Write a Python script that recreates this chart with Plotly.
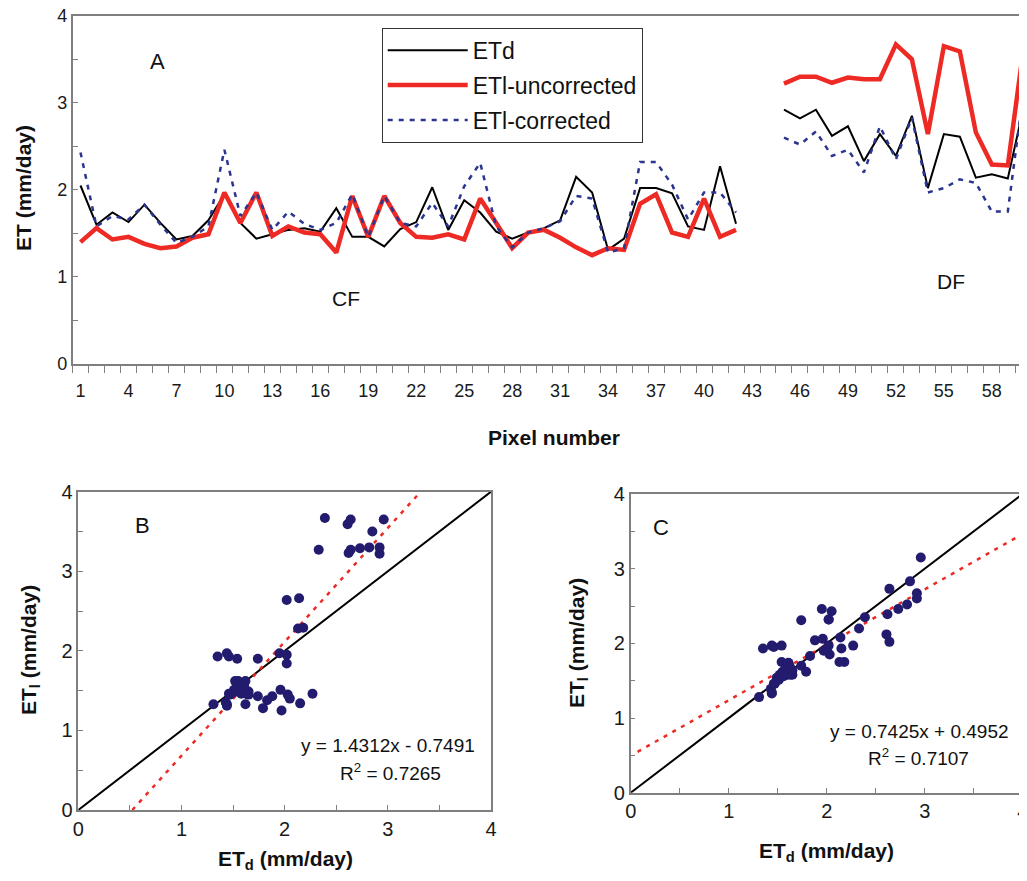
import plotly.graph_objects as go

# ---------------- data ----------------
pixels = list(range(1, 61))

et_d = [2.05, 1.60, 1.74, 1.63, 1.83, 1.62, 1.43, 1.47, 1.65, 1.95,
        1.62, 1.44, 1.49, 1.54, 1.56, 1.52, 1.79, 1.46, 1.46, 1.35,
        1.55, 1.63, 2.03, 1.54, 1.88, 1.74, 1.52, 1.44, 1.51, 1.56,
        1.65, 2.15, 1.97, 1.31, 1.44, 2.02, 2.02, 1.96, 1.58, 1.54,
        2.27, 1.61, None, None, 2.92, 2.82, 2.92, 2.62, 2.73, 2.33,
        2.64, 2.39, 2.85, 2.02, 2.64, 2.61, 2.14, 2.18, 2.13, 2.96]

etl_uncorrected = [1.40, 1.56, 1.43, 1.46, 1.38, 1.33, 1.35, 1.45, 1.49, 1.97,
                   1.62, 1.97, 1.47, 1.58, 1.51, 1.49, 1.28, 1.93, 1.46, 1.93,
                   1.62, 1.46, 1.45, 1.49, 1.43, 1.90, 1.62, 1.33, 1.51, 1.54,
                   1.45, 1.34, 1.25, 1.33, 1.31, 1.84, 1.95, 1.51, 1.46, 1.90,
                   1.46, 1.54, None, None, 3.22, 3.30, 3.30, 3.23, 3.29, 3.27,
                   3.27, 3.67, 3.50, 2.64, 3.65, 3.59, 2.66, 2.29, 2.28, 3.65]

etl_corrected = [2.43, 1.58, 1.70, 1.66, 1.83, 1.60, 1.39, 1.46, 1.58, 2.46,
                 1.70, 1.97, 1.54, 1.75, 1.61, 1.54, 1.62, 1.95, 1.46, 1.93,
                 1.62, 1.58, 1.85, 1.58, 2.04, 2.31, 1.58, 1.34, 1.51, 1.56,
                 1.64, 1.93, 1.90, 1.28, 1.33, 2.32, 2.32, 2.06, 1.66, 1.97,
                 1.97, 1.74, None, None, 2.60, 2.52, 2.67, 2.39, 2.46, 2.20,
                 2.73, 2.35, 2.83, 1.97, 2.02, 2.12, 2.08, 1.75, 1.75, 3.15]

x_tick_labels = list(range(1, 61, 3))
y_ticks = [0, 1, 2, 3, 4]

fit_b = (1.4312, -0.7491, 0.7265)   # slope, intercept, R2
fit_c = (0.7425, 0.4952, 0.7107)

# ---------------- styling ----------------
FONT = "Liberation Sans, Arial, Helvetica, sans-serif"
BLACK = "#000000"
RED = "#ee2a24"
NAVY = "#2b3590"
DOT = "#221b6e"
AXIS_GREY = "#7f7f7f"
W, H = 1027, 881
PAGE_OFF = 8  # default body margin of the html page


def px_x(p):
    return (p - PAGE_OFF) / W


def px_y(p):
    return 1 - (p - PAGE_OFF) / H


fig = go.Figure()

# Panel A lines
fig.add_trace(go.Scatter(x=pixels, y=et_d, mode="lines", name="ETd", legendgroup="a",
                         line=dict(color=BLACK, width=2), xaxis="x", yaxis="y"))
fig.add_trace(go.Scatter(x=pixels, y=etl_uncorrected, mode="lines", name="ETl-uncorrected",
                         legendgroup="b",
                         line=dict(color=RED, width=4.5), xaxis="x", yaxis="y"))
fig.add_trace(go.Scatter(x=pixels, y=etl_corrected, mode="lines", name="ETl-corrected",
                         legendgroup="c",
                         line=dict(color=NAVY, width=2.5, dash="5px,6px"), xaxis="x", yaxis="y"))


# Panel B / C: 1:1 lines, fit lines, points
def add_scatter_panel(xa, ya, yvals, fit, xr):
    pairs = [(a, b) for a, b in zip(et_d, yvals) if a is not None and b is not None]
    fig.add_trace(go.Scatter(x=[0, 4], y=[0, 4], mode="lines", showlegend=False,
                             line=dict(color=BLACK, width=2), xaxis=xa, yaxis=ya,
                             hoverinfo="skip"))
    s, b, _ = fit
    fig.add_trace(go.Scatter(x=list(xr), y=[s * v + b for v in xr], mode="lines",
                             showlegend=False,
                             line=dict(color=RED, width=2.5, dash="4px,6px"),
                             xaxis=xa, yaxis=ya, hoverinfo="skip"))
    fig.add_trace(go.Scatter(x=[p[0] for p in pairs], y=[p[1] for p in pairs],
                             mode="markers", showlegend=False,
                             marker=dict(color=DOT, size=10, line=dict(width=0)),
                             xaxis=xa, yaxis=ya))


add_scatter_panel("x2", "y2", etl_uncorrected, fit_b,
                  ((0 - fit_b[1]) / fit_b[0], (4 - fit_b[1]) / fit_b[0]))
add_scatter_panel("x3", "y3", etl_corrected, fit_c, (0.07, 3.93))

base = dict(showline=True, linecolor=AXIS_GREY, linewidth=1.5, showgrid=False,
            zeroline=False, tickcolor=AXIS_GREY, tickwidth=1.2, automargin=False,
            ticklabeloverflow="allow")
font_a = dict(family=FONT, size=18, color="#1a1a1a")
font_bc = dict(family=FONT, size=20, color="#1a1a1a")


def sq_axis(domain, anchor):
    return dict(domain=domain, range=[0, 4], anchor=anchor,
                tickmode="array", tickvals=y_ticks, ticks="inside", ticklen=5,
                minor=dict(dtick=0.5, ticks="inside", ticklen=5, tickcolor=AXIS_GREY),
                mirror=True, tickfont=font_bc, **base)


fig.update_layout(
    width=W, height=H, autosize=False,
    margin=dict(l=0, r=0, t=0, b=0, pad=0, autoexpand=False),
    paper_bgcolor="white", plot_bgcolor="white",
    font=dict(family=FONT, color="#111111"),
    xaxis=dict(domain=[px_x(72.5), px_x(1027)], range=[0.5, 60.2], anchor="y",
               tickmode="array", tickvals=x_tick_labels, ticks="outside", ticklen=0,
               minor=dict(tickmode="array", tickvals=[i + 0.5 for i in range(0, 61)],
                          ticks="outside", ticklen=7, tickcolor=AXIS_GREY),
               mirror=True, ticklabelstandoff=10, tickfont=font_a, **base),
    yaxis=dict(domain=[px_y(364), px_y(15.7)], range=[0, 4], anchor="x",
               tickmode="array", tickvals=y_ticks, ticks="inside", ticklen=6,
               minor=dict(dtick=0.5, ticks="inside", ticklen=6, tickcolor=AXIS_GREY),
               mirror=False, tickfont=font_a, **base),
    xaxis2=sq_axis([px_x(78.3), px_x(491)], "y2"),
    yaxis2=sq_axis([px_y(810), px_y(491.7)], "x2"),
    xaxis3=sq_axis([px_x(630.7), px_x(1022.7)], "y3"),
    yaxis3=sq_axis([px_y(792.7), px_y(494)], "x3"),
    legend=dict(x=px_x(381.7), y=px_y(27.7), xanchor="left", yanchor="top",
                bordercolor="#333333", borderwidth=1, bgcolor="white",
                font=dict(family=FONT, size=23, color="#111111"),
                itemwidth=80, tracegroupgap=2, traceorder="grouped"),
    showlegend=True,
)

ann = []


def label(text, x, y, size, bold=False, angle=0):
    t = f"<b>{text}</b>" if bold else text
    ann.append(dict(text=t, x=px_x(x), y=px_y(y), xref="paper", yref="paper",
                    showarrow=False, xanchor="center", yanchor="middle",
                    textangle=angle, font=dict(family=FONT, size=size, color="#111111")))


# axis titles
label("ET (mm/day)", 23, 188, 21, bold=True, angle=-90)
label("Pixel number", 554, 437, 21, bold=True)
label("ET<sub>l</sub> (mm/day)", 30, 650, 21, bold=True, angle=-90)
label("ET<sub>d</sub> (mm/day)", 285, 860, 21, bold=True)
label("ET<sub>l</sub> (mm/day)", 578, 643, 21, bold=True, angle=-90)
label("ET<sub>d</sub> (mm/day)", 826, 852, 21, bold=True)

# panel labels
label("A", 157, 61, 22)
label("CF", 346, 298, 21)
label("DF", 951, 281, 21)
label("B", 142, 525, 22)
label("C", 661, 527, 22)

# regression text
label(f"y = {fit_b[0]:.4f}x - {abs(fit_b[1]):.4f}", 388, 745, 19)
label(f"R<sup>2</sup> = {fit_b[2]:.4f}", 390, 772, 19)
label(f"y = {fit_c[0]:.4f}x + {fit_c[1]:.4f}", 919, 731, 19)
label(f"R<sup>2</sup> = {fit_c[2]:.4f}", 918, 757, 19)

fig.update_layout(annotations=ann)

fig.write_html("out.html")
